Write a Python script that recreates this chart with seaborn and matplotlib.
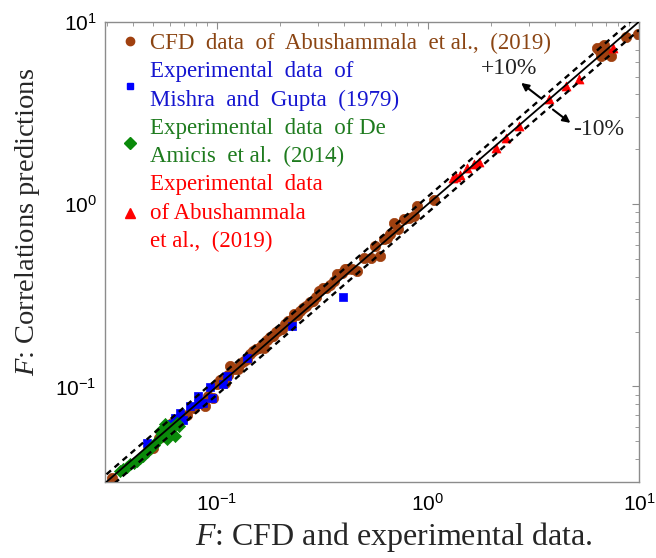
import numpy as np
import pandas as pd
import matplotlib
matplotlib.use("Agg")
import matplotlib.pyplot as plt
import seaborn as sns
from matplotlib.lines import Line2D

sns.set_style("white")
plt.rcParams['font.family'] = ['Liberation Serif', 'DejaVu Serif']
plt.rcParams['mathtext.fontset'] = 'custom'
plt.rcParams['mathtext.it'] = 'Liberation Serif:italic'
plt.rcParams['mathtext.rm'] = 'Liberation Serif'

# ---------------- data ----------------
cfd_x = [0.0318, 0.047, 0.050, 0.053, 0.061, 0.066, 0.072, 0.078, 0.084, 0.088,
         0.091, 0.096, 0.100, 0.104, 0.109, 0.113, 0.116, 0.121, 0.126, 0.130,
         0.134, 0.139, 0.144, 0.149, 0.153, 0.158, 0.163, 0.168, 0.173, 0.178,
         0.184, 0.190, 0.196, 0.203, 0.210, 0.217, 0.224, 0.231, 0.239, 0.247,
         0.256, 0.265, 0.275, 0.285, 0.296, 0.306, 0.318, 0.330, 0.345, 0.358,
         0.372, 0.390, 0.405, 0.414, 0.436, 0.462, 0.500, 0.535, 0.560, 0.596,
         0.620, 0.642, 0.660, 0.690, 0.720, 0.770, 0.810, 0.855, 0.891, 1.07,
         6.30, 6.48, 6.60, 6.70, 6.84, 6.90, 7.10, 7.36, 8.67, 9.93]
cfd_y = [0.0316, 0.045, 0.046, 0.052, 0.063, 0.066, 0.070, 0.076, 0.081, 0.078,
         0.089, 0.087, 0.103, 0.108, 0.105, 0.116, 0.130, 0.125, 0.124, 0.135,
         0.138, 0.141, 0.150, 0.157, 0.160, 0.163, 0.168, 0.163, 0.180, 0.186,
         0.190, 0.200, 0.204, 0.206, 0.221, 0.229, 0.232, 0.250, 0.246, 0.259,
         0.270, 0.276, 0.290, 0.294, 0.309, 0.333, 0.345, 0.348, 0.360, 0.380,
         0.412, 0.420, 0.439, 0.440, 0.440, 0.430, 0.505, 0.508, 0.590, 0.519,
         0.640, 0.653, 0.690, 0.790, 0.735, 0.824, 0.840, 0.860, 0.975, 1.06,
         7.20, 7.04, 6.47, 7.30, 7.50, 6.75, 6.75, 6.47, 8.22, 8.57]

mishra_x = [0.0466, 0.0601, 0.0635, 0.0690, 0.0670, 0.0748, 0.0816, 0.0816,
            0.0862, 0.0931, 0.0948, 0.107, 0.112, 0.139, 0.227, 0.394]
mishra_y = [0.0492, 0.0624, 0.0675, 0.0655, 0.0718, 0.0782, 0.0802, 0.0887,
            0.0815, 0.0994, 0.0868, 0.103, 0.114, 0.143, 0.215, 0.309]

amicis_x = [0.0348, 0.0361, 0.0375, 0.0388, 0.0403, 0.0418, 0.0433, 0.0449,
            0.0466, 0.0483, 0.0502, 0.0520, 0.0538, 0.0549, 0.0569, 0.0580,
            0.0580, 0.0612, 0.0635, 0.0647, 0.0660]
amicis_y = [0.0344, 0.0352, 0.0362, 0.0375, 0.0382, 0.0391, 0.0404, 0.0416,
            0.0440, 0.0462, 0.0478, 0.0502, 0.0570, 0.0547, 0.0620, 0.0570,
            0.0514, 0.0595, 0.0536, 0.0633, 0.0610]

abu_exp_x = [1.31, 1.36, 1.42, 1.54, 1.66, 1.74, 2.10, 2.34, 2.70, 3.75,
             4.50, 5.21, 7.50]
abu_exp_y = [1.39, 1.40, 1.45, 1.58, 1.66, 1.70, 2.03, 2.31, 2.68, 3.75,
             4.43, 4.88, 7.18]

series_names = ["CFD  data  of  Abushammala  et al.,  (2019)",
                "Experimental  data  of\nMishra  and  Gupta  (1979)",
                "Experimental  data  of De\nAmicis  et al.  (2014)",
                "Experimental  data\nof Abushammala\net al.,  (2019)"]
marker_colors = ["#A0400F", "#0000FF", "#0A8A0A", "#FF0000"]
text_colors = ["#8B4513", "#1515D0", "#1E7B1E", "#FF0000"]
markers = ["o", "s", "D", "^"]
sizes = [55, 28, 38, 42]

ref_line = [0.03, 10]
band_up, band_lo = 1.1, 0.9

# ---------------- figure ----------------
fig = plt.figure(figsize=(6.56, 5.58), dpi=100)
ax = fig.add_axes([0.160, 0.136, 0.814, 0.825])

data_sets = [(cfd_x, cfd_y), (mishra_x, mishra_y), (amicis_x, amicis_y),
             (abu_exp_x, abu_exp_y)]
for (xs, ys), name, c, m, s in zip(data_sets, series_names, marker_colors, markers, sizes):
    df = pd.DataFrame({"x": xs, "y": ys})
    sns.scatterplot(data=df, x="x", y="y", ax=ax, color=c, marker=m, s=s,
                    edgecolor=c, linewidth=0.5, zorder=2, legend=False)

ref = np.array(ref_line)
ax.plot(ref, ref, color="black", lw=1.3, zorder=3)
ax.plot(ref, ref * band_up, color="black", lw=1.7, ls=(0, (2.5, 2)), zorder=3)
ax.plot(ref, ref * band_lo, color="black", lw=1.7, ls=(0, (2.5, 2)), zorder=3)

ax.set_xscale("log")
ax.set_yscale("log")
ax.set_xlim(0.0295, 10)
ax.set_ylim(0.0299, 10)

for sp in ax.spines.values():
    sp.set_color("#8c8c8c")
    sp.set_linewidth(1.0)
ax.tick_params(which="both", direction="in", top=True, right=True, colors="#8c8c8c",
               labelcolor="black")
ax.tick_params(which="major", length=5, width=0.8)
ax.tick_params(which="minor", length=3, width=0.6)
for lab in ax.get_xticklabels() + ax.get_yticklabels():
    lab.set_fontfamily("Liberation Sans")
    lab.set_fontsize(15)
ax.tick_params(axis="x", pad=8)
ax.tick_params(axis="y", pad=6)

ax.set_xlabel("$F$: CFD and experimental data.", fontsize=23)
ax.set_ylabel("$F$: Correlations predictions", fontsize=20.5)
ax.xaxis.set_label_coords(0.54, -0.137)
ax.xaxis.label.set_va("baseline")
ax.yaxis.set_label_coords(-0.117, 0.565)

# annotations
ax.annotate("", xy=(2.70, 4.72), xytext=(3.49, 3.75),
            arrowprops=dict(arrowstyle="-|>", color="black", lw=1.5, mutation_scale=11))
ax.annotate("", xy=(4.85, 2.73), xytext=(3.82, 3.37),
            arrowprops=dict(arrowstyle="-|>", color="black", lw=1.5, mutation_scale=11))
ax.text(2.42, 5.56, "+10%", fontsize=17, ha="center", va="center", color="#222222")
ax.text(6.46, 2.58, "-10%", fontsize=17, ha="center", va="center", color="#222222")

# legend
handles = [Line2D([], [], ls="none", marker=m, color=c, markersize=ms)
           for m, c, ms in zip(markers, marker_colors, [6, 5, 6, 6.5])]
leg = ax.legend(handles, series_names, loc="upper left", bbox_to_anchor=(0.012, 1.0),
                frameon=False, fontsize=16.5, handlelength=0.6, handletextpad=0.6,
                labelspacing=0.3, borderaxespad=0.3, borderpad=0.2)
for t, c in zip(leg.get_texts(), text_colors):
    t.set_color(c)
    t.set_linespacing(1.46)

fig.savefig("out.png", dpi=100)
